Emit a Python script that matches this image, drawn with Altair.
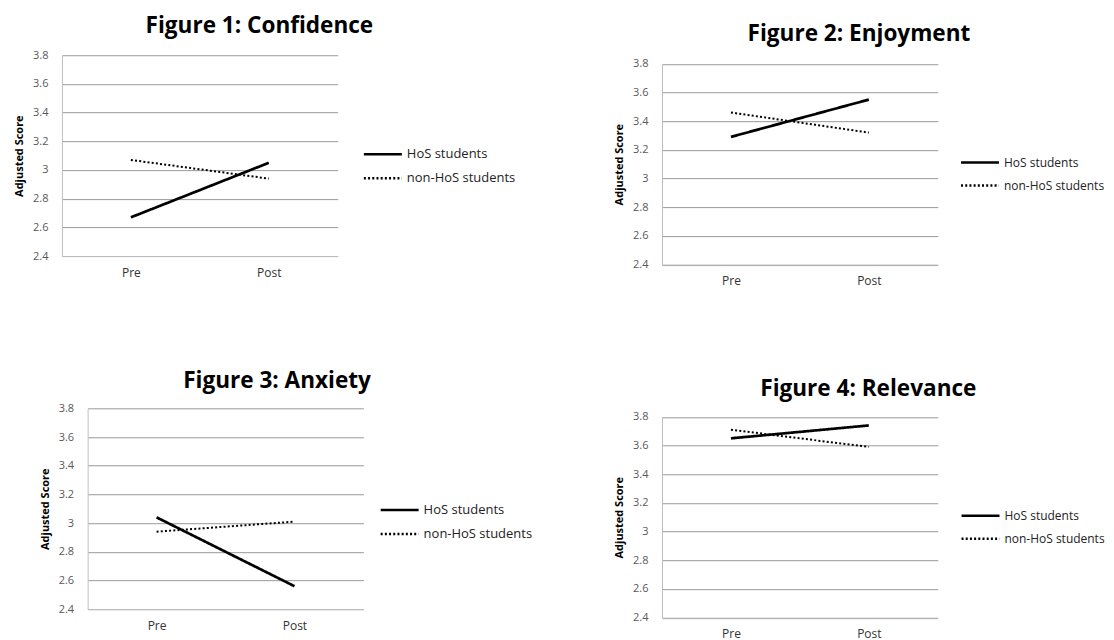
import altair as alt
import pandas as pd

# ---- data ----
phases = ["Pre", "Post"]
groups = ["HoS students", "non-HoS students"]
titles = ["Figure 1: Confidence", "Figure 2: Enjoyment", "Figure 3: Anxiety", "Figure 4: Relevance"]
hos_scores = [[2.67, 3.05], [3.29, 3.55], [3.04, 2.56], [3.65, 3.74]]
non_hos_scores = [[3.07, 2.94], [3.46, 3.32], [2.94, 3.01], [3.71, 3.59]]
y_ticks = [2.4, 2.6, 2.8, 3.0, 3.2, 3.4, 3.6, 3.8]

FONT = "Open Sans"
W = 276
H = 201


def panel(i, width, height, xrange=None, yrange=None, yoffset=0,
          tdx=0.0, tdy=0.0, lx=0.0, ly=0.0, lfs=13):
    rows = []
    for p, v in zip(phases, hos_scores[i]):
        rows.append({"phase": p, "group": groups[0], "score": v})
    for p, v in zip(phases, non_hos_scores[i]):
        rows.append({"phase": p, "group": groups[1], "score": v})
    df = pd.DataFrame(rows)

    xs = dict(domain=phases, padding=0.5)
    if xrange is not None:
        xs["range"] = xrange
    ys = dict(domain=[2.4, 3.8], nice=False, zero=False)
    if yrange is not None:
        ys["range"] = yrange

    yaxis = dict(title="Adjusted Score", values=y_ticks, format="~g", ticks=False,
                 labelPadding=14, labelFontSize=11, labelColor="#595959", labelFont=FONT,
                 titleFont=FONT, titleFontSize=11, titleFontWeight="bold", titleColor="#000000",
                 titlePadding=8, domainColor="#bfbfbf", gridColor="#999999", gridWidth=1)
    if yoffset:
        yaxis["offset"] = yoffset

    base = alt.Chart(df).encode(
        x=alt.X("phase:N", sort=phases, scale=alt.Scale(**xs),
                axis=alt.Axis(title=None, labelAngle=0, ticks=False, labelPadding=11,
                              labelFontSize=12, labelColor="#333333", labelFont=FONT,
                              domainColor="#bfbfbf", grid=False)),
        y=alt.Y("score:Q", scale=alt.Scale(**ys), axis=alt.Axis(**yaxis)),
        strokeDash=alt.StrokeDash(
            "group:N",
            scale=alt.Scale(domain=groups, range=[[1, 0], [2, 2.2]]),
            legend=alt.Legend(title=None, orient="none", legendX=lx, legendY=ly,
                              symbolType="M-2,0H2", symbolSize=361, symbolStrokeWidth=2.5,
                              symbolStrokeColor="#000000", symbolFillColor="transparent",
                              labelFontSize=lfs, labelFont=FONT,
                              labelColor="#222222", labelOffset=13, padding=0, rowPadding=6),
        ),
    )
    hos = base.transform_filter(alt.datum.group == groups[0]).mark_line(
        color="#000000", strokeWidth=2.7)
    non = base.transform_filter(alt.datum.group == groups[1]).mark_line(
        color="#000000", strokeWidth=2.0)
    return alt.layer(hos, non).properties(
        width=width, height=height,
        title=alt.TitleParams(titles[i], font=FONT, fontSize=22.6, fontWeight="bold",
                              color="#000000", anchor="middle", frame="group",
                              baseline="alphabetic", offset=0, dx=tdx, dy=tdy),
    )


SHIFT_Y = 8.5
SHIFT_X = 25.7

p1 = panel(0, W, H, tdx=59.6, tdy=6.6, lx=310.2, ly=88, lfs=13)
p2 = panel(1, W, H + SHIFT_Y, yrange=[H + SHIFT_Y, SHIFT_Y],
           tdx=59.1, tdy=8.8, lx=307.3, ly=96.4, lfs=12)
p3 = panel(2, W + SHIFT_X, H, xrange=[SHIFT_X, W + SHIFT_X], yoffset=-SHIFT_X,
           tdx=64.4, tdy=8, lx=327, ly=90.7, lfs=13)
p4 = panel(3, W, H + SHIFT_Y, yrange=[H + SHIFT_Y, SHIFT_Y],
           tdx=68.5, tdy=10.7, lx=307.8, ly=96.5, lfs=12)

chart = alt.concat(
    p1, p2, p3, p4, columns=2, bounds="flush",
    spacing={"row": 143.4, "column": 298.6},
).resolve_scale(
    strokeDash="independent"
).resolve_legend(
    strokeDash="independent"
).properties(
    padding={"left": 5, "top": 7, "right": 0, "bottom": 0},
).configure_view(stroke=None)

chart.save("out.html", embed_options={"renderer": "svg", "actions": False})
